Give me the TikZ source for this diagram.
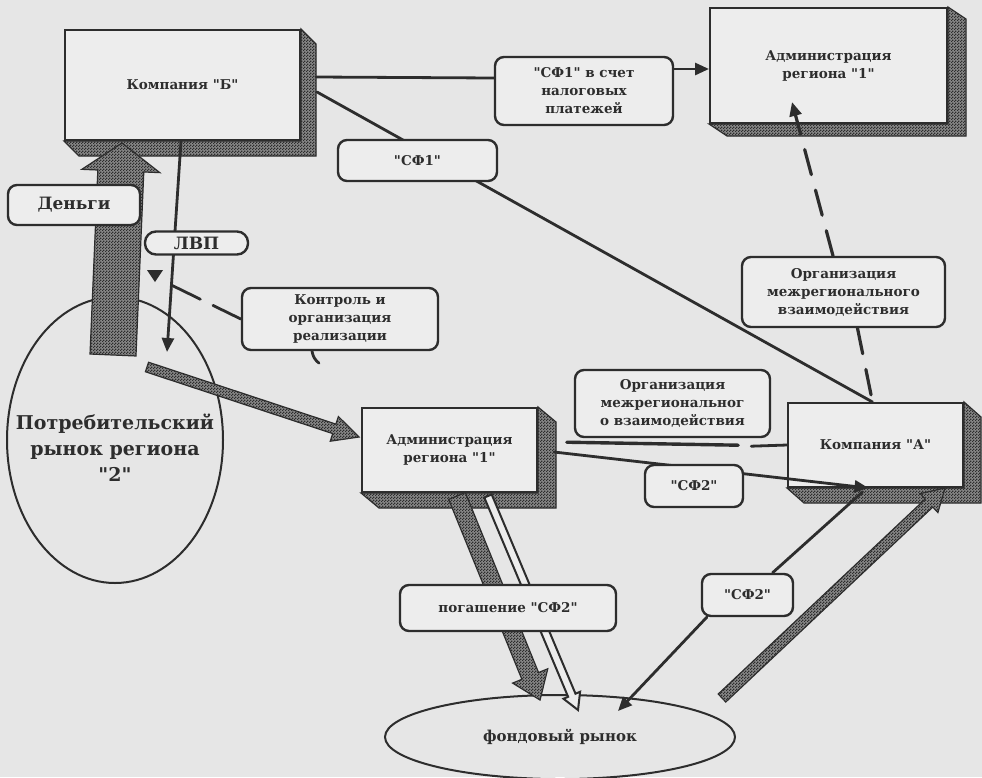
\documentclass[tikz,border=0pt]{standalone}
\usepackage{fontspec}
\setmainfont{DejaVu Serif}[Ligatures=TeXOff]
\usetikzlibrary{patterns,arrows.meta,calc,shapes.geometric}
\definecolor{bgc}{RGB}{230,230,230}
\definecolor{boxc}{RGB}{237,237,237}
\definecolor{ink}{RGB}{45,45,45}
\definecolor{hatchbg}{RGB}{135,135,135}
\pgfdeclarepatternformonly{finecheck}{\pgfqpoint{0pt}{0pt}}{\pgfqpoint{3pt}{3pt}}{\pgfqpoint{3pt}{3pt}}{%
  \pgfpathrectangle{\pgfqpoint{0pt}{0pt}}{\pgfqpoint{1.5pt}{1.5pt}}%
  \pgfpathrectangle{\pgfqpoint{1.5pt}{1.5pt}}{\pgfqpoint{1.5pt}{1.5pt}}%
  \pgfusepath{fill}}
\pgfdeclarelayer{bgl}
\pgfdeclarelayer{conn}
\pgfsetlayers{bgl,conn,main}
\newcommand\blockarrow[6]{%
  \coordinate (hb) at ($(#3)!#6!(#2)$);
  \path[#1] ($(#2)!#4!90:(#3)$) -- ($(hb)!#4!90:(#3)$) -- ($(hb)!#5!90:(#3)$) -- (#3) -- ($(hb)!#5!-90:(#3)$) -- ($(hb)!#4!-90:(#3)$) -- ($(#2)!#4!-90:(#3)$) -- cycle;}
\newcommand\extrude[3]{%
  \path[hatch] (#1.north east) -- ++(#2,#3) -- ($(#1.south east)+(#2,#3)$) -- ($(#1.south west)+(#2,#3)$) -- (#1.south west) -- (#1.south east) -- cycle;}
\begin{document}
\begin{tikzpicture}[x=1pt,y=-1pt,
  ln/.style={draw=ink,line width=2.8pt,line cap=round},
  tipA/.style={-{Triangle[length=14pt,width=12pt]}},
  face/.style={draw=ink,line width=2pt,fill=boxc,align=center,text=ink,font=\bfseries\fontsize{13.5}{18}\selectfont,inner sep=0pt},
  rbox/.style={draw=ink,line width=2.4pt,fill=boxc,rounded corners=9pt,align=center,text=ink,font=\bfseries\fontsize{13.5}{18}\selectfont,inner sep=0pt},
  hatch/.style={preaction={fill=hatchbg},preaction={pattern=finecheck,pattern color=ink},draw=ink,line width=1.2pt},
  hollow/.style={draw=ink,line width=2pt,fill=boxc},
  dsh/.style={ln,line width=3.2pt,dash pattern=on 26pt off 16pt}]
\useasboundingbox (0,0) rectangle (982,777);
\begin{pgfonlayer}{bgl}
\fill[bgc] (0,0) rectangle (982,777);
\node[face,minimum width=235pt,minimum height=110pt] (compB) at (182.5,85) {Компания "Б"};
\extrude{compB}{15}{15}
\node[face,minimum width=237pt,minimum height=115pt] (admTR) at (828.5,65.5) {Администрация\\региона "1"};
\extrude{admTR}{18}{12}
\node[face,minimum width=175pt,minimum height=84pt] (admM) at (449.5,450) {Администрация\\региона "1"};
\extrude{admM}{18}{15}
\node[face,minimum width=175pt,minimum height=84pt] (compA) at (875.5,445) {Компания "А"};
\extrude{compA}{17}{15}
\node[draw=ink,line width=2pt,ellipse,minimum width=216pt,minimum height=286pt] (cons) at (115,440) {};
\node[text=ink,align=center,font=\bfseries\fontsize{19}{26}\selectfont] (consT) at (115,448) {Потребительский\\рынок региона\\"2"};
\node[draw=ink,line width=2pt,ellipse,minimum width=350pt,minimum height=84pt,text=ink,font=\bfseries\fontsize{15}{18}\selectfont] (fond) at (560,737) {фондовый рынок};
\end{pgfonlayer}
\node[rbox,minimum width=132pt,minimum height=40pt,font=\bfseries\fontsize{17}{20}\selectfont] (dengi) at (74,205) {Деньги};
\node[rbox,minimum width=103pt,minimum height=23pt,rounded corners=11pt,font=\bfseries\fontsize{17}{20}\selectfont] (lvp) at (196.5,243) {ЛВП};
\node[rbox,minimum width=196pt,minimum height=62pt] (kontrol) at (340,319) {Контроль и\\организация\\реализации};
\node[rbox,minimum width=159pt,minimum height=41pt] (sf1) at (417.5,160.5) {"СФ1"};
\node[rbox,minimum width=178pt,minimum height=68pt] (sf1tax) at (584,91) {"СФ1" в счет\\налоговых\\платежей};
\node[rbox,minimum width=203pt,minimum height=70pt] (org1) at (843.5,292) {Организация\\межрегионального\\взаимодействия};
\node[rbox,minimum width=195pt,minimum height=67pt] (org2) at (672.5,403.5) {Организация\\межрегиональног\\о взаимодействия};
\node[rbox,minimum width=98pt,minimum height=42pt] (sf2a) at (694,486) {"СФ2"};
\node[rbox,minimum width=91pt,minimum height=42pt] (sf2b) at (747.5,595) {"СФ2"};
\node[rbox,minimum width=216pt,minimum height=46pt] (pog) at (508,608) {погашение "СФ2"};
\begin{pgfonlayer}{conn}
\draw[ln] ([xshift=15pt,yshift=8pt]compB.east) -- ([yshift=13pt]sf1tax.west);
\draw[ln,tipA] ([yshift=22pt]sf1tax.east) -- ([yshift=22pt]sf1tax.east -| admTR.west);
\draw[ln] ([xshift=16pt,yshift=-7pt]compB.east) -- ([xshift=-3pt]compA.north);
\coordinate (admTRin) at ([xshift=-36.5pt,yshift=-36.5pt]admTR.center);
\draw[dsh,tipA] ([xshift=-10.5pt]org1.north) -- (admTRin);
\draw[dsh] ([xshift=14pt]org1.south) -- ([xshift=-3pt]compA.north);
\draw[ln,tipA] ([xshift=16pt,yshift=-2pt]admM.east) -- ([xshift=-7pt]compA.south);
\draw[ln] ([xshift=25pt]sf2b.north) -- ([xshift=-13pt,yshift=-4pt]compA.south);
\coordinate (fondin) at ([xshift=58pt,yshift=26pt]fond.center);
\draw[ln,tipA] ([xshift=6pt]sf2b.south west) -- (fondin);
\draw[ln,line width=3.4pt] ([xshift=-7pt,yshift=-4pt]org2.south west) -- ([xshift=-33pt,yshift=-7pt]org2.south east);
\draw[ln] ([xshift=-20pt,yshift=-8pt]org2.south east) -- (compA.west);
\coordinate (lvptip) at ([xshift=52pt,yshift=88pt]cons.center);
\draw[ln,tipA] ([xshift=-1.5pt]compB.south) -- (lvptip);
\coordinate (lvpmid) at ($(compB.south)!0.684!(lvptip)$);
\draw[ln,dash pattern=on 31pt off 14pt] (kontrol.west) -- (lvpmid);
\fill[ink] (147,270) -- (163,270) -- (155,282) -- cycle;
\draw[ln] ([xshift=-28pt]kontrol.south) to[bend right=20] ++(7,12);
\coordinate (mA) at ([xshift=-2pt,yshift=85pt]cons.center);
\coordinate (mB) at ([xshift=-60.5pt,yshift=-2pt]compB.south);
\blockarrow{hatch}{mA}{mB}{23pt}{39pt}{28pt}
\coordinate (cA) at ([xshift=32pt,yshift=73pt]cons.center);
\coordinate (cB) at ([xshift=-2pt,yshift=13pt]admM.west);
\blockarrow{hatch}{cA}{cB}{5pt}{13pt}{26pt}
\coordinate (fA) at ([xshift=7.5pt,yshift=-3pt]admM.south);
\coordinate (fB) at ([xshift=-20pt,yshift=37pt]fond.center);
\blockarrow{hatch}{fA}{fB}{9pt}{19pt}{26pt}
\coordinate (gA) at ([xshift=38.5pt,yshift=-3pt]admM.south);
\coordinate (gB) at ([xshift=18pt,yshift=27pt]fond.center);
\blockarrow{hollow}{gA}{gB}{4pt}{9pt}{16pt}
\coordinate (aA) at ([xshift=162pt,yshift=39pt]fond.center);
\coordinate (aB) at ([xshift=69.5pt]compA.south);
\blockarrow{hatch}{aA}{aB}{5.5pt}{13pt}{22pt}
\end{pgfonlayer}
\end{tikzpicture}
\end{document}
